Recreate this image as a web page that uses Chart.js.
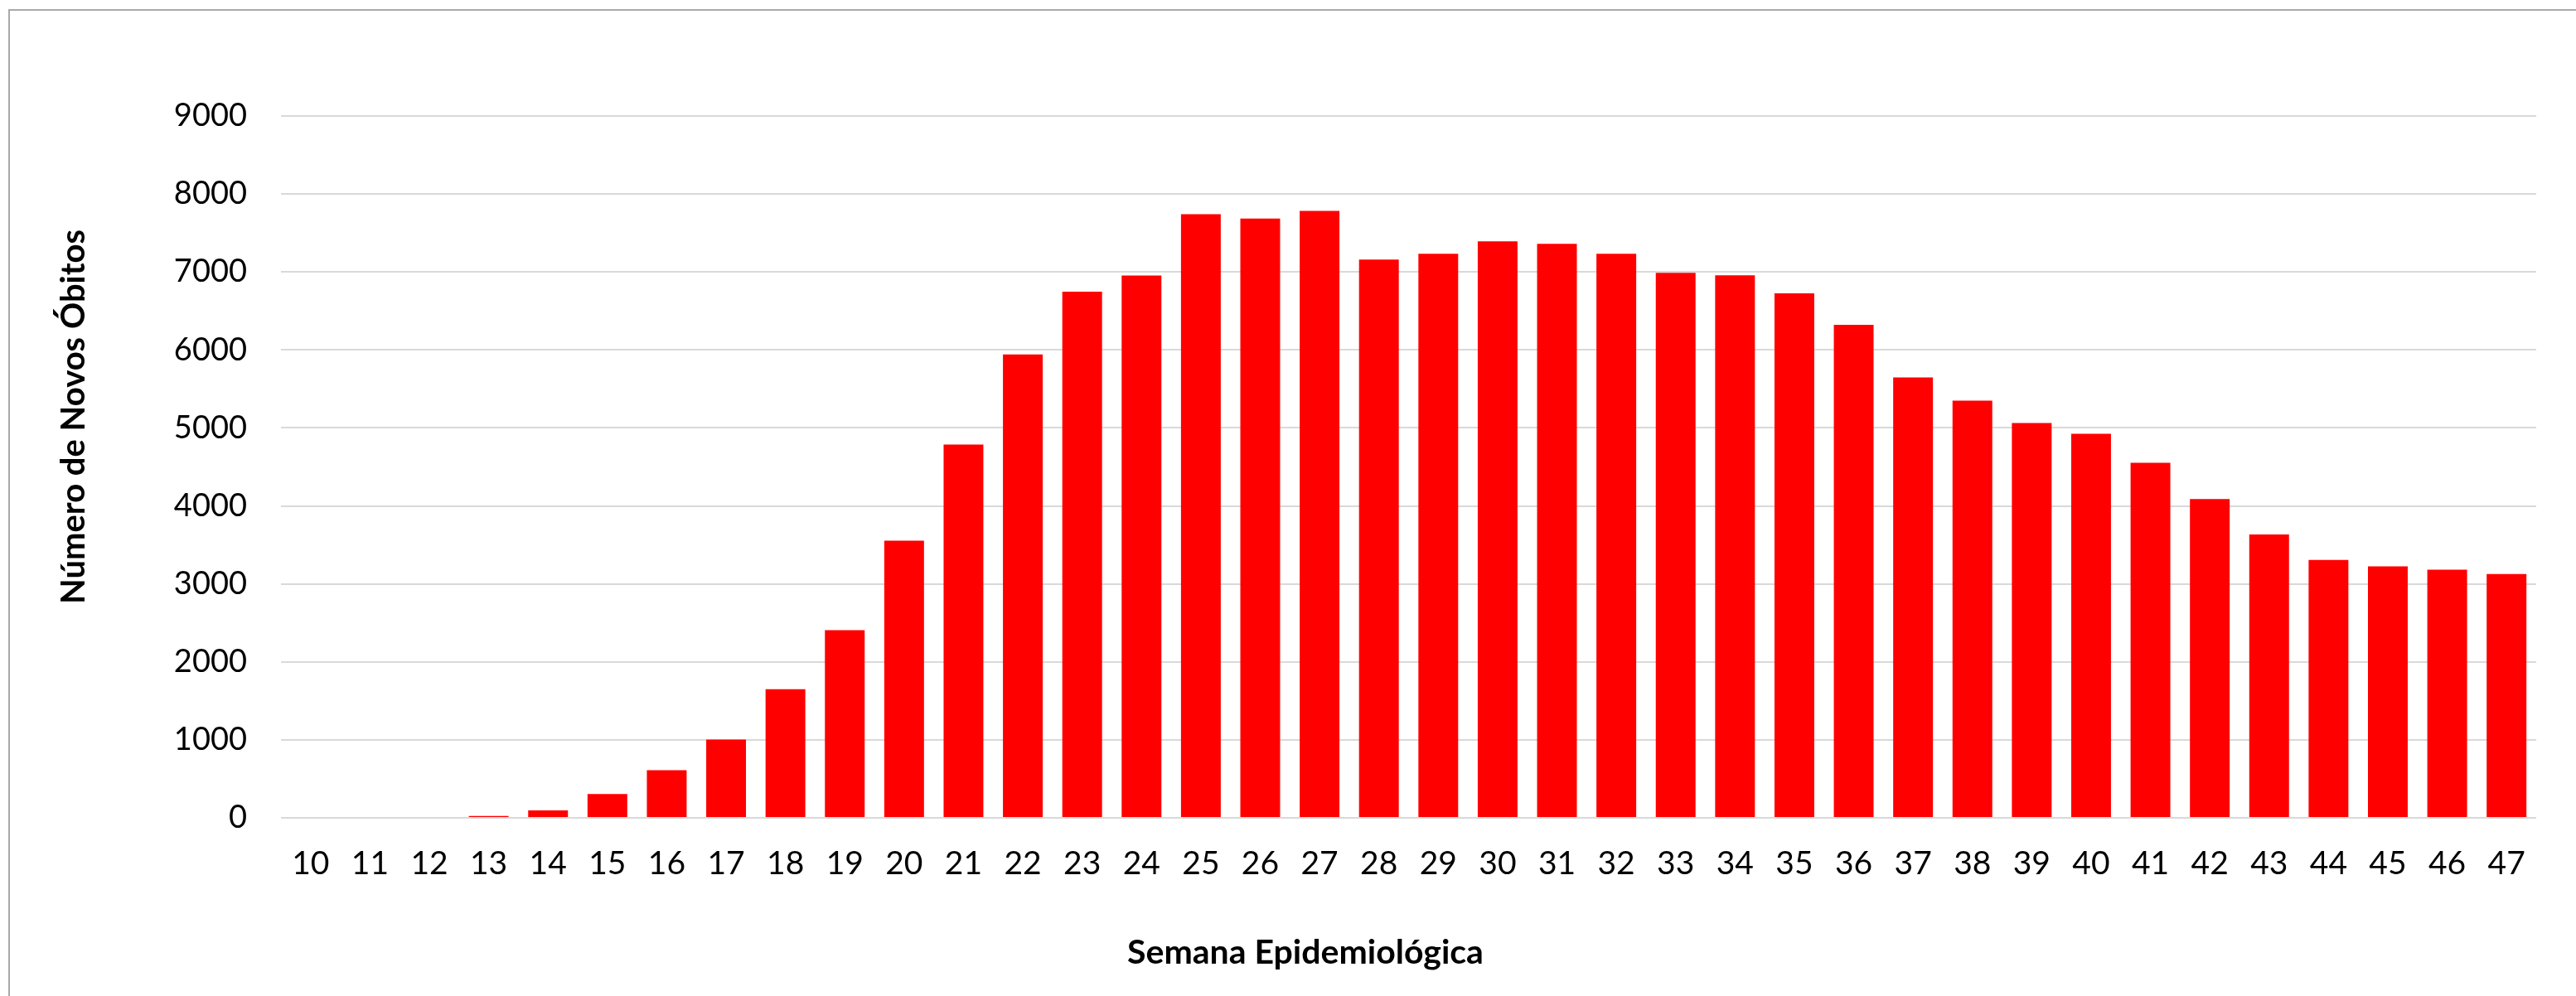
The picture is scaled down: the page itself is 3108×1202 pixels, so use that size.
<!DOCTYPE html>
<html lang="pt">
<head>
<meta charset="utf-8">
<title>Novos óbitos por semana epidemiológica</title>
<script src="https://cdn.jsdelivr.net/npm/chart.js@4.4.1/dist/chart.umd.min.js"></script>
<style>
  html, body {
    margin: 0;
    padding: 0;
    background: #fff;
  }

  .frame {
    position: absolute;
    left: 10px;
    top: 11px;
    right: 0;
    bottom: 0;
    border-left: 2px solid #a9a9a9;
    border-top: 2px solid #a9a9a9;
  }

  #chart {
    position: absolute;
    left: 0;
    top: 0;
  }
</style>
</head>
<body>
<div class="frame"></div>
<canvas id="chart" width="3108" height="1202"></canvas>

<script>
// Semanas epidemiológicas 10 a 47
const WEEKS = [
  '10', '11', '12', '13', '14', '15', '16', '17', '18', '19',
  '20', '21', '22', '23', '24', '25', '26', '27', '28', '29',
  '30', '31', '32', '33', '34', '35', '36', '37', '38', '39',
  '40', '41', '42', '43', '44', '45', '46', '47',
];

// Novos óbitos registrados em cada semana
const NEW_DEATHS = [
  0, 0, 0, 25, 95, 305, 611, 1005, 1650, 2407,
  3555, 4787, 5943, 6748, 6954, 7741, 7684, 7783, 7160, 7234,
  7393, 7361, 7234, 6989, 6957, 6725, 6321, 5648, 5351, 5064,
  4924, 4554, 4089, 3634, 3307, 3226, 3183, 3126,
];

const Y_MIN = 0;
const Y_MAX = 9000;
const Y_STEP = 1000;

const Y_TITLE = 'Número de Novos Óbitos';
const X_TITLE = 'Semana Epidemiológica';

const FONT_FAMILY = 'Lato, "Open Sans", sans-serif';

// the two axis titles sit where the sheet put them, not centred on the plot
const axisTitles = {
  id: 'axisTitles',
  afterDraw(chart) {
    const ctx = chart.ctx;
    ctx.save();
    ctx.fillStyle = '#000';
    ctx.textAlign = 'center';
    ctx.textBaseline = 'alphabetic';

    ctx.font = `bold 41px ${FONT_FAMILY}`;
    ctx.fillText(X_TITLE, 1575, 1163);

    ctx.font = `bold 40px ${FONT_FAMILY}`;
    ctx.translate(102, 503);
    ctx.rotate(-Math.PI / 2);
    ctx.fillText(Y_TITLE, 0, 0);
    ctx.restore();
  },
};

new Chart(document.getElementById('chart'), {
  type: 'bar',
  data: {
    labels: WEEKS,
    datasets: [
      {
        data: NEW_DEATHS,
        backgroundColor: '#ff0000',
        borderWidth: 0,
        barPercentage: 0.67,
        categoryPercentage: 1,
      },
    ],
  },
  options: {
    responsive: false,
    animation: false,
    layout: {
      padding: { top: 140, right: 48, bottom: 0, left: 0 },
    },
    plugins: {
      legend: { display: false },
      tooltip: { enabled: false },
      title: { display: false },
    },
    scales: {
      x: {
        grid: { display: false },
        border: { display: false },
        ticks: {
          color: '#000',
          padding: 24,
          maxRotation: 0,
          autoSkip: false,
          font: { family: FONT_FAMILY, size: 39 },
        },
        afterFit(scale) {
          scale.height = 215;
        },
      },
      y: {
        min: Y_MIN,
        max: Y_MAX,
        border: { display: false },
        grid: {
          color: '#d9d9d9',
          lineWidth: 2,
          drawTicks: false,
        },
        ticks: {
          stepSize: Y_STEP,
          color: '#000',
          padding: 41,
          font: { family: FONT_FAMILY, size: 38 },
          // plain integers, no thousands separator
          callback: (value) => String(value),
        },
        afterFit(scale) {
          scale.width = 339;
        },
      },
    },
  },
  plugins: [axisTitles],
});
</script>
</body>
</html>
